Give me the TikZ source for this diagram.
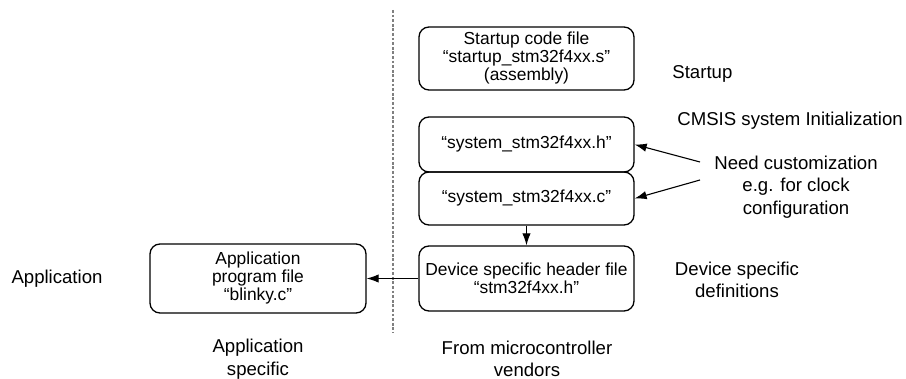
\documentclass[tikz,border=0pt]{standalone}
\usepackage{fontspec}
\setmainfont{Liberation Sans}
\usetikzlibrary{arrows.meta}
\tikzset{
  filebox/.style={draw, line width=0.65pt, rounded corners=5pt, align=center, inner sep=0pt,
    minimum width=107.5pt, font=\fontsize{8.7}{9}\selectfont},
  lbl/.style={align=center, inner sep=0pt, font=\fontsize{9.3}{11.3}\selectfont},
  conn/.style={line width=0.55pt, -{Latex[length=6pt,width=4.2pt]}},
}
\begin{document}
\begin{tikzpicture}[x=0.5pt,y=-0.5pt]
\useasboundingbox (0,0) rectangle (906,379);
\draw[gray, line width=0.6pt, dash pattern=on 1.4pt off 0.9pt] (393,10) -- (393,333);
\node[filebox, minimum height=31.5pt] (startup) at (526.5,58.5) {Startup code file\\“startup\_stm32f4xx.s”\\(assembly)};
\node[filebox, minimum height=27.5pt] (sysh) at (526.5,144.5) {“system\_stm32f4xx.h”};
\node[filebox, minimum height=26.5pt] (sysc) at (526.5,198.5) {“system\_stm32f4xx.c”};
\node[filebox, minimum height=32.5pt] (dev) at (526.5,278.5) {Device specific header file\\“stm32f4xx.h”};
\node[filebox, minimum width=108pt, minimum height=34.5pt] (app) at (258,278.5) {Application\\program file\\“blinky.c”};
\node[lbl, anchor=west] (lstart) at (672,74) {Startup};
\node[lbl, anchor=west] (lcmsis) at (677,121) {CMSIS system Initialization};
\node[lbl] (lneed) at (796,187) {Need customization\\e.g. for clock\\configuration};
\node[lbl] (ldev) at (737,280) {Device specific\\definitions};
\node[lbl] (lapp) at (57,279) {Application};
\node[lbl] (lappspec) at (258,359) {Application\\specific};
\node[lbl] (lvend) at (527,359) {From microcontroller\\vendors};
\coordinate (n1) at (700,162);
\coordinate (n2) at (700,180);
\draw[conn] (n1) -- (sysh.east);
\draw[conn] (n2) -- (sysc.east);
\draw[conn] (sysc.south) -- (dev.north);
\draw[conn] (dev.west) -- (app.east);
\end{tikzpicture}
\end{document}
